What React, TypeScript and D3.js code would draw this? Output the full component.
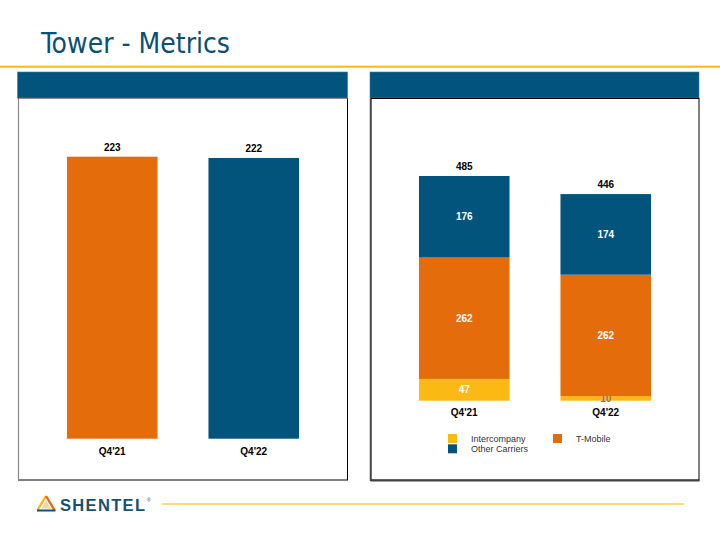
import React from "react";
import * as d3 from "d3";

const leftCategories = ["Q4'21", "Q4'22"];
const leftValues = [223, 222];
const leftColors = ["#e46c0a", "#02547c"];

const rightCategories = ["Q4'21", "Q4'22"];
const seriesKeys = ["Intercompany", "T-Mobile", "Other Carriers"];
const intercompany = [47, 10];
const tmobile = [262, 262];
const otherCarriers = [176, 174];
const totals = [485, 446];
const seriesColors = ["#fdb913", "#e46c0a", "#02547c"];

const FONT = "'Liberation Sans', Arial, sans-serif";

export default function App() {
  const xL = d3.scaleBand<string>().domain(leftCategories).range([41.5, 324.5]).paddingInner(0.36).paddingOuter(0.18);
  const yL = d3.scaleLinear().domain([0, 223]).range([438.7, 156.7]);

  const xR = d3.scaleBand<string>().domain(rightCategories).range([393.5, 676.5]).paddingInner(0.36).paddingOuter(0.18);
  const yR = d3.scaleLinear().domain([0, 485]).range([400.7, 176]);

  const rows = rightCategories.map((c, i) => ({
    cat: c,
    "Intercompany": intercompany[i],
    "T-Mobile": tmobile[i],
    "Other Carriers": otherCarriers[i],
  }));
  const stacked = d3.stack<any>().keys(seriesKeys)(rows);

  return (
    <svg width={720} height={540} style={{ position: "absolute", left: 0, top: 0, background: "#fff" }}>
      <rect x={0} y={0} width={720} height={540} fill="#fff" />
      <text x={41} y={52.5} fontFamily="'DejaVu Sans Condensed', 'DejaVu Sans', sans-serif" fontSize={28} fill="#0b4f77" textLength={189} lengthAdjust="spacingAndGlyphs">
        Tower - Metrics
      </text>
      <rect x={0} y={65.7} width={720} height={2} fill="#fbb814" />

      {/* panel headers */}
      <rect x={17.5} y={72} width={330} height={26} fill="#02547c" stroke="#2a7fae" strokeWidth={0.6} />
      <rect x={370} y={72} width={329} height={26} fill="#02547c" stroke="#2a7fae" strokeWidth={0.6} />

      {/* panel boxes */}
      <rect x={18.5} y={98.5} width={329} height={381.5} fill="#fff" stroke="#000" strokeWidth={1} />
      <line x1={18.5} y1={98.5} x2={18.5} y2={480} stroke="#8a8a8a" strokeWidth={1.2} />
      <line x1={18.5} y1={98.5} x2={347.5} y2={98.5} stroke="#8a8a8a" strokeWidth={1} />
      <rect x={371} y={98.5} width={328} height={381.5} fill="#fff" stroke="#000" strokeWidth={1} />
      <line x1={370.5} y1={480.5} x2={699.5} y2={480.5} stroke="#444" strokeWidth={2} />
      <line x1={370.5} y1={98.5} x2={370.5} y2={481} stroke="#444" strokeWidth={1.5} />

      {/* left chart */}
      {leftCategories.map((c, i) => (
        <g key={c}>
          <rect x={xL(c)} y={yL(leftValues[i])} width={xL.bandwidth()} height={yL(0) - yL(leftValues[i])} fill={leftColors[i]} />
          <text x={(xL(c) as number) + xL.bandwidth() / 2} y={yL(leftValues[i]) - 5.7} textAnchor="middle" fontFamily={FONT} fontWeight="bold" fontSize={10} fill="#000">
            {leftValues[i]}
          </text>
          <text x={(xL(c) as number) + xL.bandwidth() / 2} y={454.7} textAnchor="middle" fontFamily={FONT} fontWeight="bold" fontSize={10} fill="#000">
            {c}
          </text>
        </g>
      ))}

      {/* right chart */}
      {stacked.map((s, si) => (
        <g key={s.key}>
          {s.map((d, i) => {
            const c = rightCategories[i];
            const y0 = yR(d[0]);
            const y1 = yR(d[1]);
            const v = d[1] - d[0];
            return (
              <g key={c}>
                <rect x={xR(c)} y={y1} width={xR.bandwidth()} height={y0 - y1} fill={seriesColors[si]} />
                <text x={(xR(c) as number) + xR.bandwidth() / 2} y={(y0 + y1) / 2 + 3.6} textAnchor="middle" fontFamily={FONT} fontWeight="bold" fontSize={10} fill={v < 20 ? "#7f7f7f" : "#fff"}>
                  {v}
                </text>
              </g>
            );
          })}
        </g>
      ))}
      {rightCategories.map((c, i) => (
        <g key={c}>
          <text x={(xR(c) as number) + xR.bandwidth() / 2} y={yR(totals[i]) - 6} textAnchor="middle" fontFamily={FONT} fontWeight="bold" fontSize={10} fill="#000">
            {totals[i]}
          </text>
          <text x={(xR(c) as number) + xR.bandwidth() / 2} y={416} textAnchor="middle" fontFamily={FONT} fontWeight="bold" fontSize={10} fill="#000">
            {c}
          </text>
        </g>
      ))}

      {/* legend */}
      {seriesKeys.map((k, i) => {
        const pos = [
          { x: 448, y: 434 },
          { x: 553, y: 434 },
          { x: 448, y: 444.3 },
        ][i];
        return (
          <g key={k}>
            <rect x={pos.x} y={pos.y} width={9} height={9} fill={seriesColors[i]} />
            <text x={pos.x + 23} y={pos.y + 8} fontFamily={FONT} fontSize={9} fill="#333">
              {k}
            </text>
          </g>
        );
      })}

      {/* footer logo */}
      <line x1={46} y1={496} x2={37.5} y2={510} stroke="#fdb913" strokeWidth={2.4} />
      <line x1={46} y1={496} x2={54.5} y2={510} stroke="#e46c0a" strokeWidth={2.4} />
      <line x1={37} y1={510.5} x2={55.5} y2={510.5} stroke="#02547c" strokeWidth={2} />
      <polygon points="46,500 41.5,508.5 50.5,508.5" fill="#f7a35c" opacity={0.5} />
      <text x={60} y={510.5} fontFamily={FONT} fontWeight="bold" fontSize={16.5} fill="#1b4f72" textLength={85} lengthAdjust="spacing">
        SHENTEL
      </text>
      <text x={147} y={502} fontFamily={FONT} fontSize={5} fill="#1b4f72">®</text>
      <rect x={162} y={503} width={522} height={2} fill="#fdd97a" />
    </svg>
  );
}
